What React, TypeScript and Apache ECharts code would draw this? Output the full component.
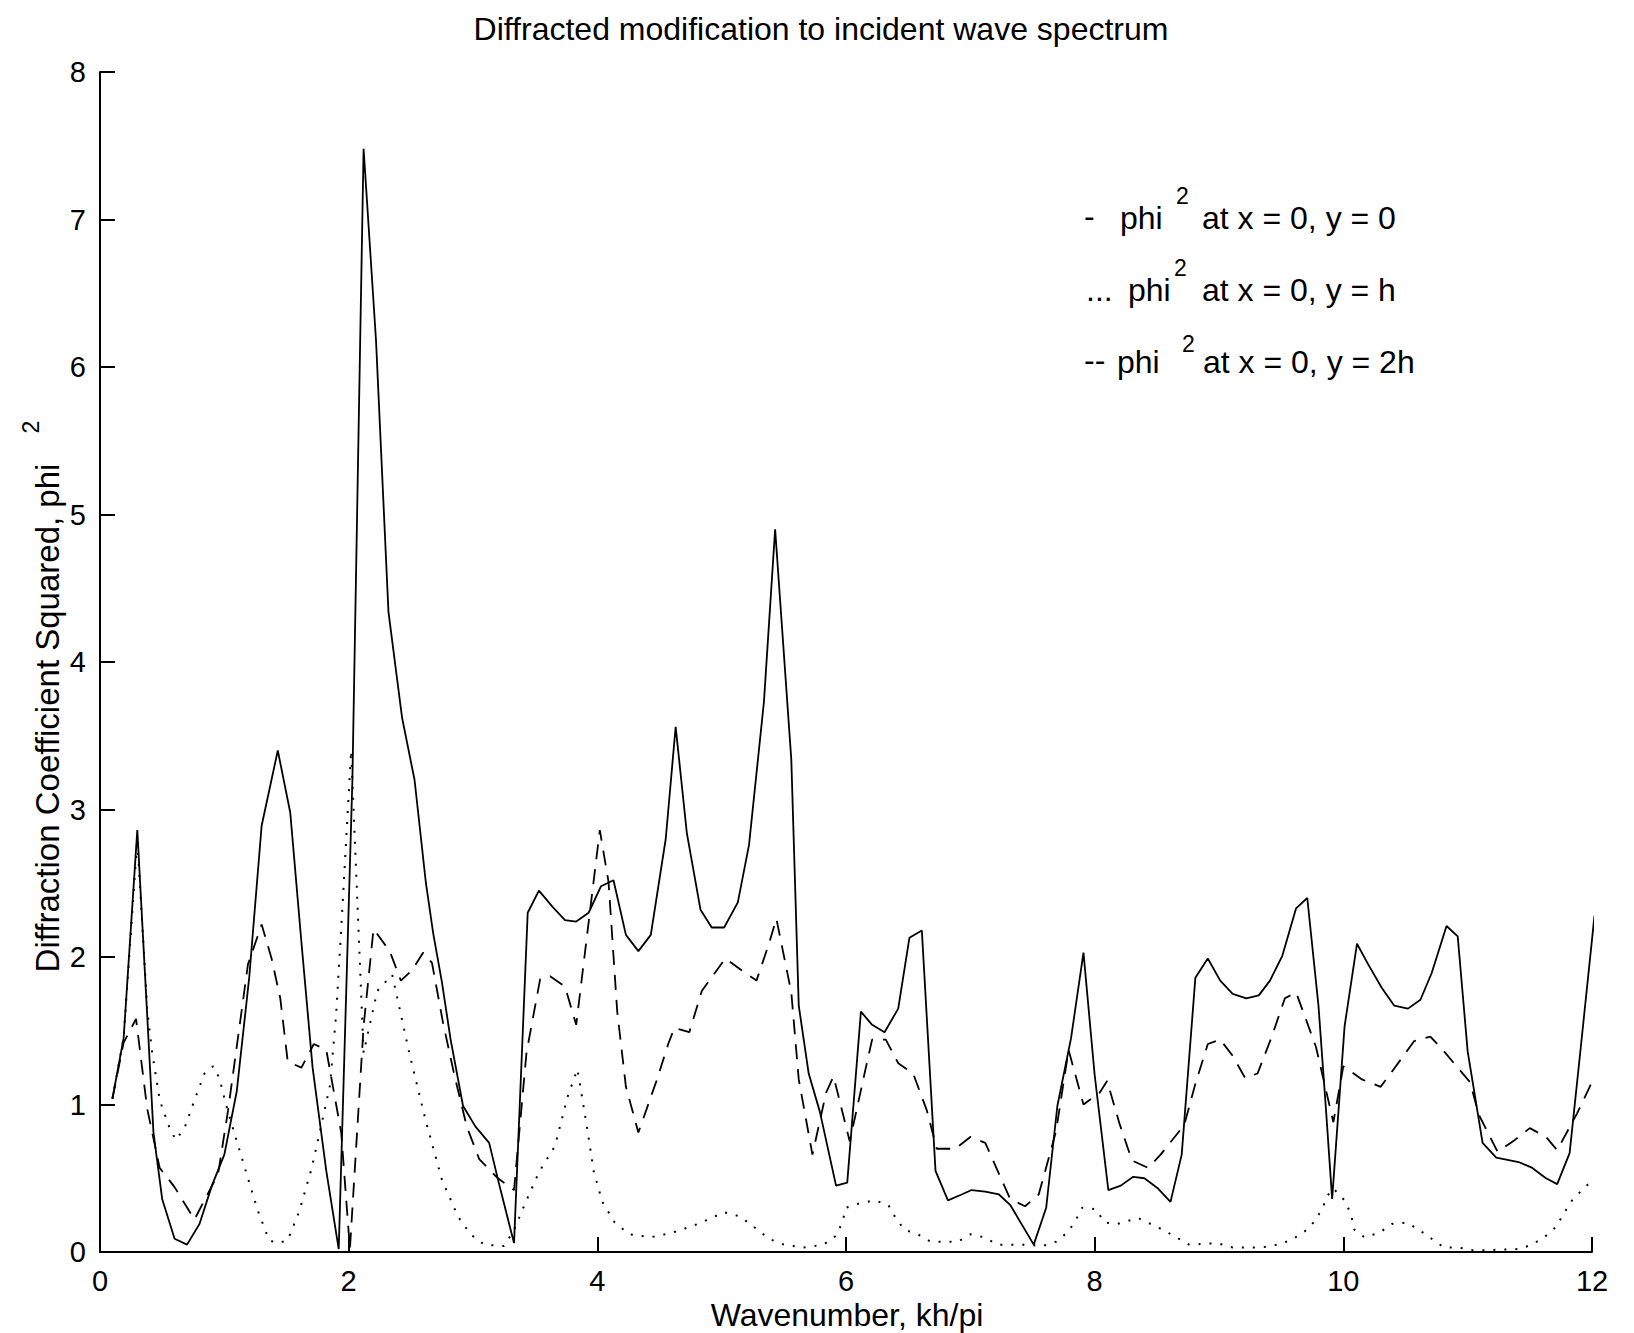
import React, { useEffect, useRef } from "react";
import * as echarts from "echarts";

// phi^2 at x = 0, y = 0 (solid)
const solidX = [0.10, 0.19, 0.30, 0.43, 0.50, 0.60, 0.70, 0.80, 0.90, 1.00, 1.10, 1.20, 1.30, 1.43, 1.53, 1.62, 1.71, 1.82, 1.92, 2.03, 2.12, 2.22, 2.32, 2.43, 2.53, 2.62, 2.68, 2.75, 2.82, 2.92, 3.02, 3.13, 3.21, 3.33, 3.44, 3.53, 3.64, 3.74, 3.83, 3.93, 4.03, 4.13, 4.23, 4.33, 4.43, 4.55, 4.63, 4.72, 4.83, 4.92, 5.02, 5.13, 5.22, 5.34, 5.43, 5.56, 5.62, 5.70, 5.79, 5.92, 6.01, 6.12, 6.21, 6.31, 6.42, 6.51, 6.61, 6.72, 6.82, 6.93, 7.01, 7.12, 7.23, 7.32, 7.51, 7.61, 7.70, 7.81, 7.91, 8.00, 8.11, 8.21, 8.31, 8.40, 8.51, 8.61, 8.70, 8.81, 8.91, 9.01, 9.11, 9.22, 9.32, 9.41, 9.51, 9.62, 9.71, 9.80, 9.86, 9.91, 10.01, 10.11, 10.20, 10.31, 10.41, 10.52, 10.62, 10.71, 10.83, 10.92, 11.00, 11.12, 11.23, 11.41, 11.52, 11.63, 11.72, 11.82, 11.91, 12.02];
const solidY = [1.04, 1.45, 2.86, 0.81, 0.36, 0.09, 0.05, 0.19, 0.45, 0.66, 1.09, 1.86, 2.89, 3.40, 2.98, 2.10, 1.25, 0.55, 0.02, 3.20, 7.48, 6.18, 4.34, 3.62, 3.20, 2.51, 2.16, 1.83, 1.44, 0.99, 0.85, 0.74, 0.46, 0.06, 2.30, 2.45, 2.34, 2.25, 2.24, 2.30, 2.48, 2.52, 2.15, 2.04, 2.15, 2.80, 3.56, 2.84, 2.32, 2.20, 2.20, 2.37, 2.76, 3.73, 4.90, 3.34, 1.67, 1.21, 0.95, 0.45, 0.47, 1.63, 1.54, 1.49, 1.65, 2.13, 2.18, 0.55, 0.35, 0.39, 0.42, 0.41, 0.39, 0.32, 0.05, 0.30, 0.99, 1.45, 2.03, 1.20, 0.42, 0.45, 0.51, 0.50, 0.43, 0.34, 0.66, 1.86, 1.99, 1.84, 1.75, 1.72, 1.74, 1.84, 2.01, 2.33, 2.40, 1.67, 0.97, 0.36, 1.53, 2.09, 1.95, 1.79, 1.67, 1.65, 1.71, 1.89, 2.21, 2.14, 1.36, 0.74, 0.64, 0.61, 0.57, 0.50, 0.46, 0.67, 1.39, 2.28];

// phi^2 at x = 0, y = h (dotted)
const dotX = [0.10, 0.19, 0.30, 0.38, 0.42, 0.48, 0.56, 0.61, 0.68, 0.76, 0.84, 0.91, 0.96, 1.01, 1.09, 1.19, 1.27, 1.36, 1.43, 1.51, 1.60, 1.70, 1.78, 1.85, 1.90, 1.95, 2.02, 2.12, 2.23, 2.35, 2.49, 2.62, 2.75, 2.88, 2.98, 3.09, 3.25, 3.33, 3.43, 3.53, 3.66, 3.76, 3.84, 3.92, 3.97, 4.04, 4.14, 4.26, 4.43, 4.60, 4.81, 5.02, 5.15, 5.29, 5.38, 5.50, 5.65, 5.82, 5.92, 5.97, 6.00, 6.11, 6.23, 6.34, 6.40, 6.47, 6.58, 6.68, 6.90, 7.00, 7.11, 7.22, 7.46, 7.58, 7.69, 7.79, 7.85, 7.90, 8.01, 8.08, 8.18, 8.35, 8.55, 8.76, 8.99, 9.11, 9.34, 9.47, 9.58, 9.69, 9.76, 9.83, 9.87, 9.92, 10.01, 10.06, 10.09, 10.17, 10.29, 10.39, 10.51, 10.61, 10.71, 10.81, 10.93, 11.05, 11.41, 11.52, 11.63, 11.71, 11.78, 11.84, 11.92, 12.02];
const dotY = [1.04, 1.45, 2.80, 1.64, 1.35, 1.03, 0.84, 0.76, 0.84, 1.03, 1.21, 1.26, 1.18, 1.01, 0.78, 0.50, 0.28, 0.08, 0.06, 0.08, 0.27, 0.56, 0.86, 1.13, 1.62, 2.34, 3.40, 1.35, 1.77, 1.88, 1.34, 0.89, 0.49, 0.24, 0.12, 0.05, 0.04, 0.15, 0.35, 0.54, 0.72, 1.05, 1.24, 0.83, 0.55, 0.34, 0.20, 0.12, 0.10, 0.13, 0.19, 0.27, 0.24, 0.15, 0.09, 0.05, 0.03, 0.05, 0.11, 0.20, 0.30, 0.33, 0.35, 0.32, 0.23, 0.15, 0.12, 0.07, 0.07, 0.12, 0.10, 0.05, 0.05, 0.04, 0.07, 0.14, 0.22, 0.30, 0.29, 0.20, 0.19, 0.23, 0.15, 0.05, 0.06, 0.03, 0.03, 0.05, 0.08, 0.14, 0.20, 0.29, 0.38, 0.43, 0.35, 0.26, 0.15, 0.10, 0.13, 0.19, 0.20, 0.15, 0.09, 0.03, 0.03, 0.01, 0.02, 0.05, 0.11, 0.17, 0.27, 0.35, 0.42, 0.50];

// phi^2 at x = 0, y = 2h (dashed)
const dashX = [0.10, 0.19, 0.29, 0.38, 0.48, 0.60, 0.76, 0.95, 1.03, 1.19, 1.30, 1.38, 1.45, 1.51, 1.62, 1.72, 1.82, 1.94, 2.01, 2.12, 2.20, 2.33, 2.42, 2.51, 2.60, 2.67, 2.76, 2.85, 2.95, 3.05, 3.20, 3.33, 3.43, 3.54, 3.62, 3.74, 3.83, 4.02, 4.09, 4.16, 4.23, 4.33, 4.48, 4.57, 4.62, 4.74, 4.84, 5.03, 5.16, 5.28, 5.38, 5.44, 5.56, 5.62, 5.73, 5.84, 5.90, 6.03, 6.17, 6.21, 6.32, 6.42, 6.54, 6.65, 6.73, 6.88, 7.00, 7.12, 7.32, 7.44, 7.55, 7.69, 7.79, 7.91, 8.04, 8.10, 8.20, 8.30, 8.43, 8.53, 8.72, 8.81, 8.91, 9.01, 9.11, 9.21, 9.31, 9.42, 9.53, 9.62, 9.78, 9.92, 10.00, 10.15, 10.30, 10.38, 10.57, 10.70, 10.81, 11.02, 11.09, 11.24, 11.38, 11.50, 11.63, 11.72, 11.88, 12.01];
const dashY = [1.04, 1.42, 1.58, 0.97, 0.57, 0.44, 0.22, 0.53, 0.96, 1.95, 2.22, 1.99, 1.72, 1.29, 1.25, 1.41, 1.37, 0.81, 0.02, 1.53, 2.19, 2.04, 1.84, 1.91, 2.03, 1.96, 1.55, 1.20, 0.85, 0.63, 0.50, 0.42, 1.35, 1.85, 1.87, 1.80, 1.54, 2.86, 2.51, 1.63, 1.12, 0.81, 1.17, 1.41, 1.52, 1.49, 1.77, 1.99, 1.91, 1.84, 2.09, 2.26, 1.76, 1.17, 0.66, 1.08, 1.19, 0.75, 1.29, 1.44, 1.44, 1.28, 1.21, 0.96, 0.70, 0.70, 0.78, 0.74, 0.36, 0.31, 0.39, 0.82, 1.37, 1.00, 1.08, 1.16, 0.87, 0.62, 0.57, 0.66, 0.86, 1.14, 1.41, 1.44, 1.33, 1.18, 1.21, 1.45, 1.72, 1.76, 1.39, 0.88, 1.26, 1.17, 1.12, 1.21, 1.43, 1.46, 1.36, 1.15, 0.93, 0.68, 0.76, 0.84, 0.78, 0.69, 0.94, 1.17];

const TITLE = "Diffracted modification to incident wave spectrum";
const X_NAME = "Wavenumber, kh/pi";
const Y_NAME = "Diffraction Coefficient Squared, phi";
const LEGEND_MARKS = ["-", "...", "--"];
const LEGEND_TEXTS = ["at x = 0, y = 0", "at x = 0, y = h", "at x = 0, y = 2h"];

const FONT = "'Liberation Sans', Arial, Helvetica, sans-serif";

function txt(x: number, y: number, text: string, size: number, align = "left", extra: any = {}) {
  return {
    type: "text",
    x,
    y,
    silent: true,
    ...extra,
    style: {
      text,
      fill: "#000",
      fontSize: size,
      fontFamily: FONT,
      textAlign: align,
      align,
      textVerticalAlign: "middle",
      verticalAlign: "middle",
    },
  };
}

export default function App() {
  const ref = useRef<HTMLDivElement>(null);
  useEffect(() => {
    document.body.style.margin = "0";
    const chart = echarts.init(ref.current!, null, { renderer: "svg" });
    const pairs = (xs: number[], ys: number[]) => xs.map((x, i) => [x, ys[i]]);
    const axisCommon = {
      type: "value",
      axisLine: { show: true, lineStyle: { color: "#000", width: 2 } },
      axisTick: { show: true, inside: true, length: 15, lineStyle: { color: "#000", width: 2 } },
      axisLabel: { color: "#000", fontSize: 29, fontFamily: FONT, margin: 14 },
      splitLine: { show: false },
    };
    chart.setOption({
      animation: false,
      backgroundColor: "#ffffff",
      grid: { left: 100, right: 42, top: 72, bottom: 81 },
      xAxis: { ...axisCommon, min: 0, max: 12, interval: 2 },
      yAxis: { ...axisCommon, min: 0, max: 8, interval: 1 },
      series: [
        {
          type: "line",
          name: "dotted",
          data: pairs(dotX, dotY),
          symbol: "none",
          z: 1,
          lineStyle: { color: "#000", width: 2, type: [2, 9] },
        },
        {
          type: "line",
          name: "dashed",
          data: pairs(dashX, dashY),
          symbol: "none",
          z: 2,
          lineStyle: { color: "#000", width: 1.8, type: [15, 10] },
        },
        {
          type: "line",
          name: "solid",
          data: pairs(solidX, solidY),
          symbol: "none",
          z: 3,
          lineStyle: { color: "#000", width: 1.8 },
        },
      ],
      graphic: [
        txt(821, 29, TITLE, 32, "center"),
        txt(847, 1315, X_NAME, 32, "center"),
        txt(47, 718, Y_NAME, 33, "center", { rotation: Math.PI / 2 }),
        txt(31, 427, "2", 23, "center", { rotation: Math.PI / 2 }),
        // legend line 1
        txt(1084, 216, LEGEND_MARKS[0], 32),
        txt(1120, 218, "phi", 32),
        txt(1176, 196, "2", 23),
        txt(1202, 218, LEGEND_TEXTS[0], 32),
        // legend line 2
        txt(1086, 290, LEGEND_MARKS[1], 32),
        txt(1128, 290, "phi", 32),
        txt(1174, 268, "2", 23),
        txt(1202, 290, LEGEND_TEXTS[1], 32),
        // legend line 3
        txt(1084, 360, LEGEND_MARKS[2], 32),
        txt(1117, 362, "phi", 32),
        txt(1182, 344, "2", 23),
        txt(1203, 362, LEGEND_TEXTS[2], 32),
      ],
    });
    return () => chart.dispose();
  }, []);
  return <div ref={ref} style={{ width: 1634, height: 1333, background: "#fff" }} />;
}
